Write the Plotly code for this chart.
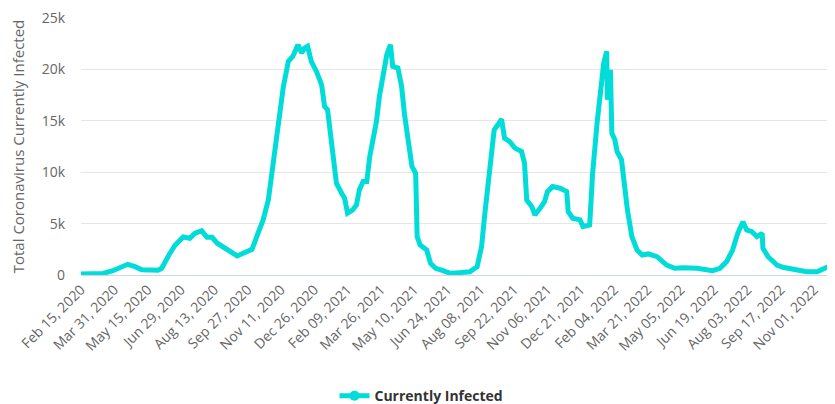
import plotly.graph_objects as go

# ---- data ----
dates = [
    "2020-02-15", "2020-03-16", "2020-03-29", "2020-04-05", "2020-04-18", "2020-04-28",
    "2020-05-07", "2020-05-29", "2020-06-03", "2020-06-14", "2020-06-21", "2020-07-02",
    "2020-07-11", "2020-07-18", "2020-07-27", "2020-08-03", "2020-08-10", "2020-08-17",
    "2020-08-25", "2020-09-03", "2020-09-13", "2020-09-21", "2020-10-03", "2020-10-11",
    "2020-10-18", "2020-10-25", "2020-10-31", "2020-11-07", "2020-11-14", "2020-11-21",
    "2020-11-27", "2020-12-04", "2020-12-09", "2020-12-13", "2020-12-17", "2020-12-22",
    "2020-12-29", "2021-01-05", "2021-01-09", "2021-01-13", "2021-01-18", "2021-01-22",
    "2021-01-25", "2021-02-01", "2021-02-05", "2021-02-09", "2021-02-16", "2021-02-21",
    "2021-02-25", "2021-03-02", "2021-03-07", "2021-03-11", "2021-03-15", "2021-03-20",
    "2021-03-24", "2021-03-28", "2021-04-03", "2021-04-08", "2021-04-11", "2021-04-18",
    "2021-04-23", "2021-04-27", "2021-05-01", "2021-05-07", "2021-05-12", "2021-05-14",
    "2021-05-18", "2021-05-27", "2021-06-01", "2021-06-08", "2021-06-15", "2021-06-24",
    "2021-06-28", "2021-07-11", "2021-07-24", "2021-08-03", "2021-08-09", "2021-08-13",
    "2021-08-17", "2021-08-22", "2021-08-26", "2021-08-31", "2021-09-05", "2021-09-09",
    "2021-09-16", "2021-09-23", "2021-10-02", "2021-10-06", "2021-10-09", "2021-10-16",
    "2021-10-20", "2021-10-27", "2021-11-02", "2021-11-06", "2021-11-13", "2021-11-23",
    "2021-12-02", "2021-12-04", "2021-12-10", "2021-12-20", "2021-12-24", "2022-01-02",
    "2022-01-06", "2022-01-12", "2022-01-18", "2022-01-21", "2022-01-25", "2022-01-26",
    "2022-01-30", "2022-02-01", "2022-02-05", "2022-02-08", "2022-02-14", "2022-02-18",
    "2022-02-22", "2022-02-28", "2022-03-07", "2022-03-14", "2022-03-22", "2022-04-03",
    "2022-04-16", "2022-04-27", "2022-05-08", "2022-05-27", "2022-06-09", "2022-06-17",
    "2022-06-27", "2022-07-06", "2022-07-14", "2022-07-21", "2022-07-28", "2022-08-02",
    "2022-08-09", "2022-08-16", "2022-08-23", "2022-08-24", "2022-08-31", "2022-09-12",
    "2022-09-20", "2022-10-03", "2022-10-22", "2022-11-05", "2022-11-13", "2022-11-20",
    "2022-11-25",
]
currently_infected = [
    100, 150, 420, 600, 1040, 810,
    500, 470, 650, 2100, 2900, 3700,
    3570, 4060, 4300, 3670, 3670, 3090,
    2760, 2270, 1850, 2110, 2500, 4060,
    5360, 7300, 10550, 14780, 18180, 20780,
    21260, 22400, 21590, 22080, 22240, 20780,
    19800, 18500, 16390, 16070, 12830, 10880,
    8930, 7960, 7470, 6010, 6330, 6820,
    8280, 9090, 9090, 11520, 13150, 14930,
    17370, 19320, 21430, 22400, 20290, 20130,
    18340, 15580, 13800, 10550, 9900, 3730,
    2920, 2430, 1140, 650, 490, 320,
    160, 230, 320, 810, 2760, 5680,
    8600, 11200, 14120, 14610, 15160, 13310,
    12980, 12340, 12010, 10880, 7300, 6650,
    5840, 6490, 7140, 8110, 8600, 8440,
    8110, 6170, 5520, 5360, 4710, 4870,
    9900, 14780, 18670, 20620, 21750, 17050,
    19970, 13800, 13150, 12010, 11200, 8600,
    6330, 3730, 2430, 1950, 2050, 1780,
    970, 650, 710, 650, 550, 420,
    650, 1300, 2430, 4060, 5190, 4380,
    4220, 3730, 4060, 2600, 1780, 970,
    750, 550, 320, 320, 550, 810,
    490,
]

tick_dates = [
    "2020-02-15", "2020-03-31", "2020-05-15", "2020-06-29", "2020-08-13", "2020-09-27",
    "2020-11-11", "2020-12-26", "2021-02-09", "2021-03-26", "2021-05-10", "2021-06-24",
    "2021-08-08", "2021-09-22", "2021-11-06", "2021-12-21", "2022-02-04", "2022-03-21",
    "2022-05-05", "2022-06-19", "2022-08-03", "2022-09-17", "2022-11-01",
]
tick_labels = [
    "Feb 15, 2020", "Mar 31, 2020", "May 15, 2020", "Jun 29, 2020", "Aug 13, 2020",
    "Sep 27, 2020", "Nov 11, 2020", "Dec 26, 2020", "Feb 09, 2021", "Mar 26, 2021",
    "May 10, 2021", "Jun 24, 2021", "Aug 08, 2021", "Sep 22, 2021", "Nov 06, 2021",
    "Dec 21, 2021", "Feb 04, 2022", "Mar 21, 2022", "May 05, 2022", "Jun 19, 2022",
    "Aug 03, 2022", "Sep 17, 2022", "Nov 01, 2022",
]
y_ticks = [0, 5000, 10000, 15000, 20000, 25000]
y_tick_labels = ["0", "5k", "10k", "15k", "20k", "25k"]

series_name = "Currently Infected"
y_title = "Total Coronavirus Currently Infected"

LINE = "#00dcd8"
FONT = "Open Sans, Lato, DejaVu Sans, sans-serif"

fig = go.Figure()
fig.add_trace(go.Scatter(
    x=dates, y=currently_infected, mode="lines",
    line=dict(color=LINE, width=5, shape="linear"),
    showlegend=False, name=series_name,
))
# legend entry (line with circle symbol, as in the original legend)
fig.add_trace(go.Scatter(
    x=[None], y=[None], mode="lines+markers", name=series_name,
    line=dict(color=LINE, width=5),
    marker=dict(color=LINE, size=10, symbol="circle"),
))

# the page body has an 8px default margin, so the figure is 8px smaller
fig.update_layout(
    width=827, height=396,
    margin=dict(l=73, r=1, t=10, b=129),
    paper_bgcolor="white", plot_bgcolor="white",
    font=dict(family=FONT, size=14, color="#666666"),
    showlegend=True,
    legend=dict(
        orientation="h",
        xref="container", yref="container",
        x=0.5, xanchor="center", y=0.02, yanchor="middle",
        font=dict(family=FONT, size=14, color="#333333", weight="bold"),
        itemwidth=30,
    ),
    xaxis=dict(
        type="date",
        range=["2020-02-15", "2022-11-28"],
        tickvals=tick_dates, ticktext=tick_labels,
        tickangle=-45,
        automargin=False,
        showgrid=False, zeroline=False,
        showline=True, linecolor="#ccd6eb", linewidth=1,
        ticks="", tickfont=dict(size=14, color="#666666"),
    ),
    yaxis=dict(
        range=[0, 25000],
        tickvals=y_ticks, ticktext=y_tick_labels,
        automargin=False,
        ticklabeloverflow="allow",
        showgrid=True, gridcolor="#e6e6e6", gridwidth=1,
        zeroline=False, showline=False,
        ticks="", ticklabelstandoff=15,
        tickfont=dict(size=14, color="#666666"),
        title=dict(text=y_title, font=dict(size=15, color="#666666"), standoff=19),
    ),
)

fig.write_html("out.html")
